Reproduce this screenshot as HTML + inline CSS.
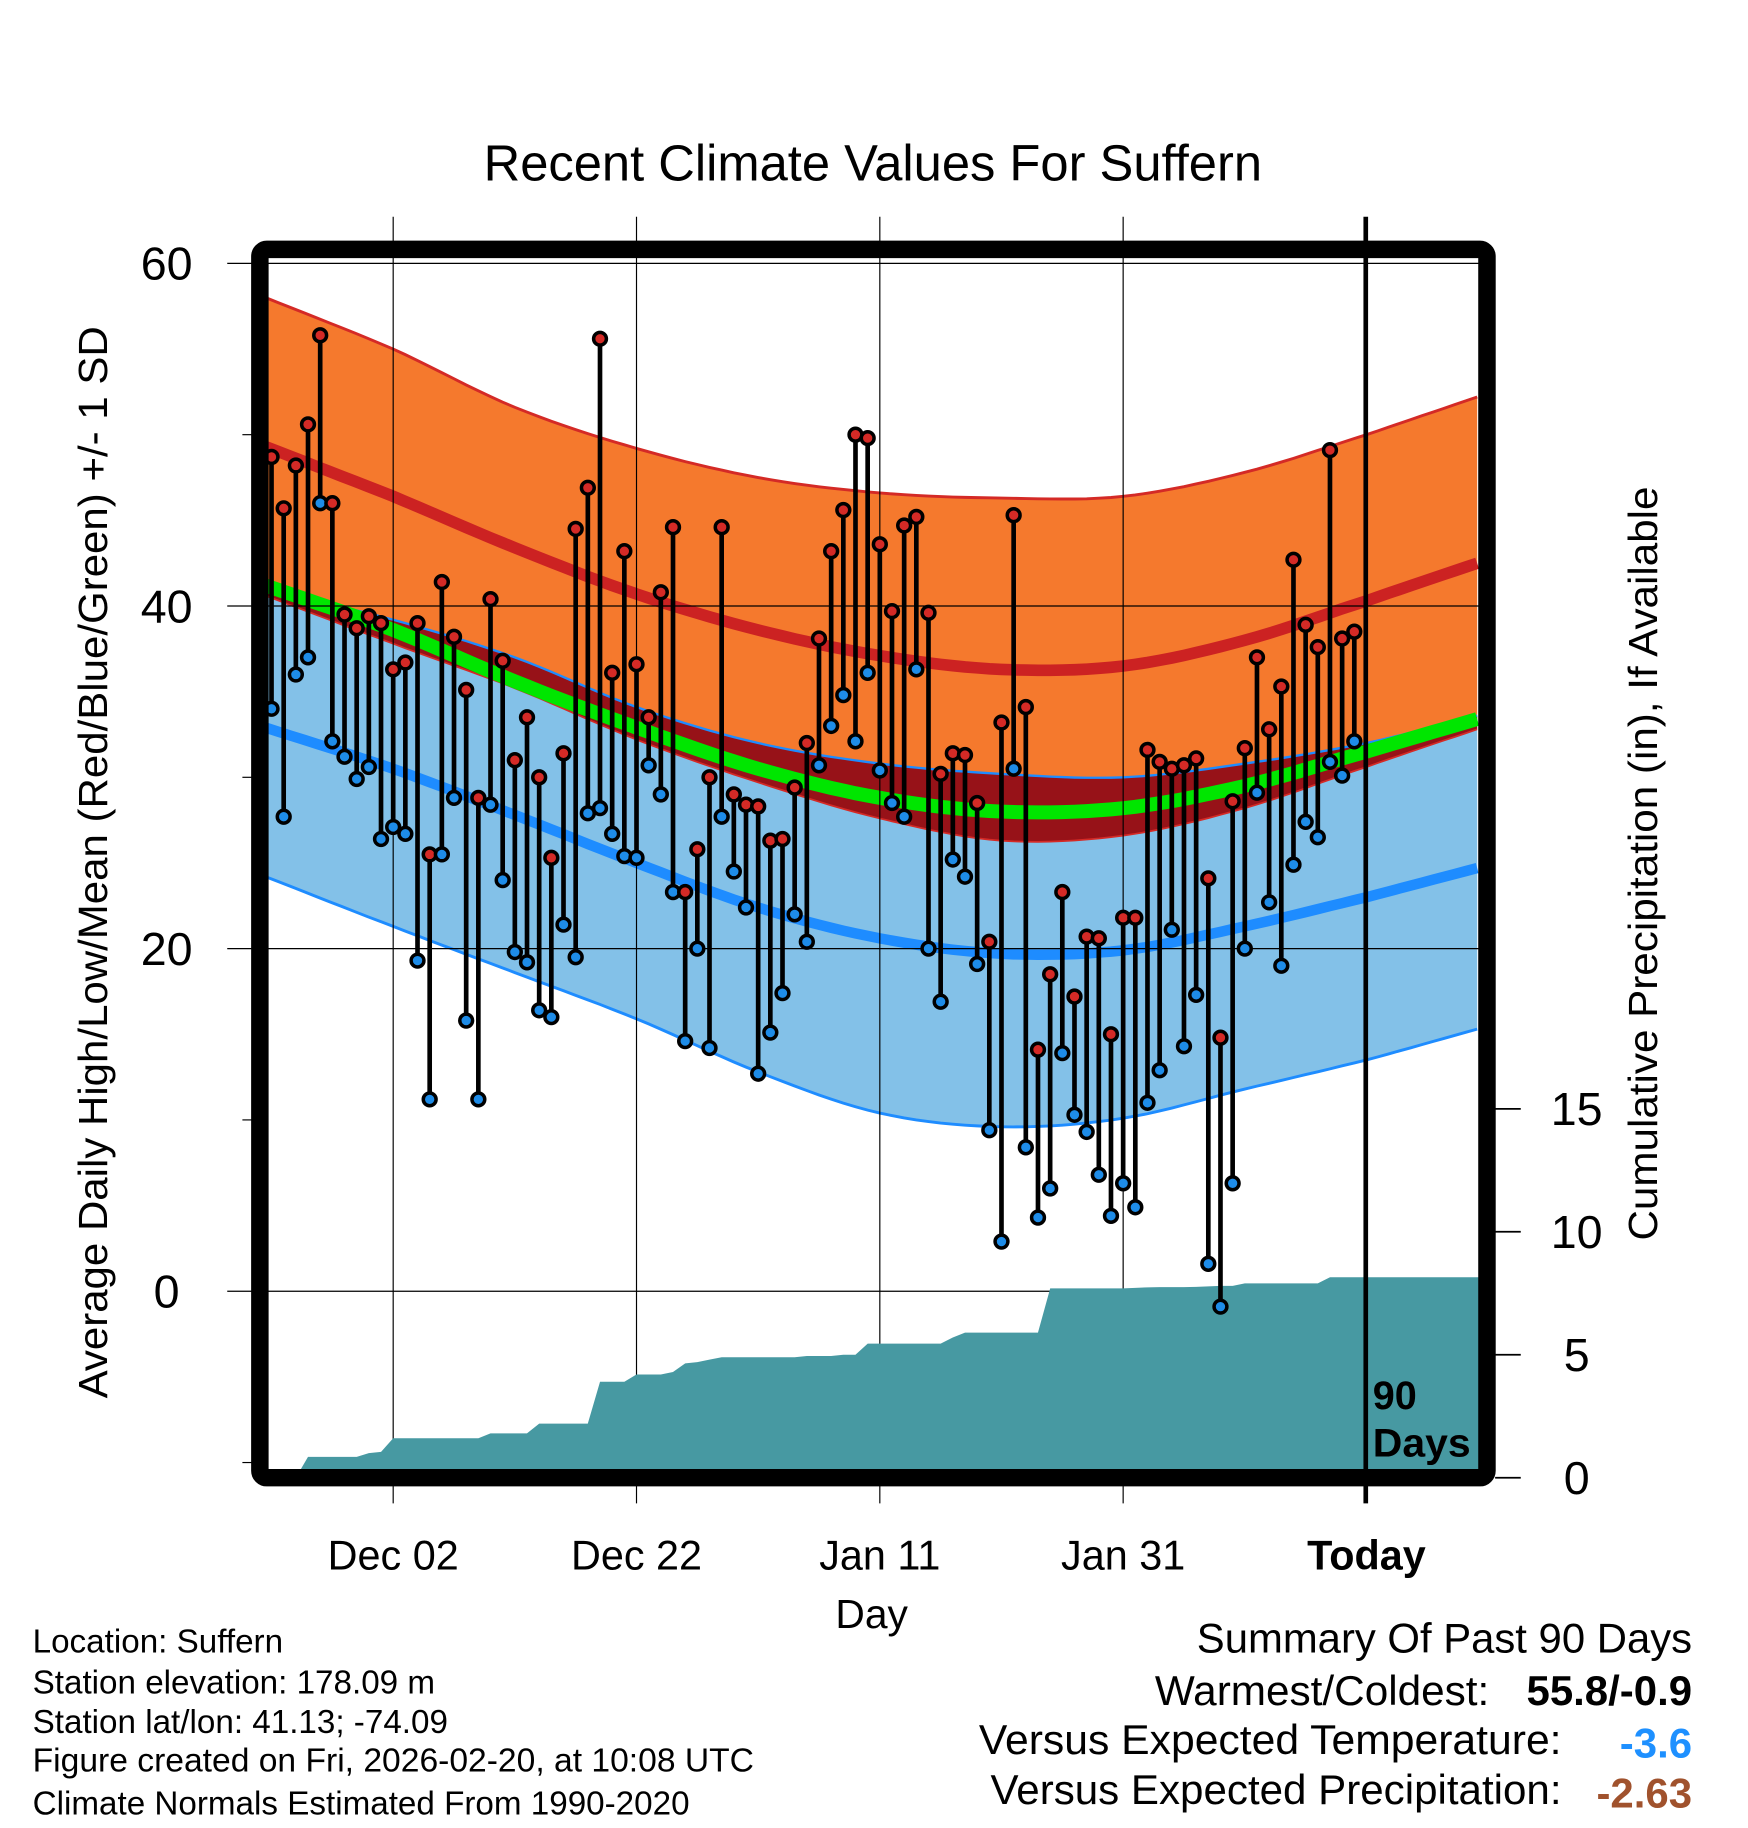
<!DOCTYPE html>
<html><head><meta charset="utf-8"><style>
html,body{margin:0;padding:0;background:#fff}
svg{display:block}
text{font-family:"Liberation Sans",Arial,sans-serif}
</style></head><body>
<svg id="chart" width="1748" height="1828" viewBox="0 0 1500 1568.6" preserveAspectRatio="none" xmlns="http://www.w3.org/2000/svg">
<defs><clipPath id="plotclip"><rect x="223" y="221" width="1046" height="1041"/></clipPath></defs>
<rect x="0" y="0" width="1500" height="1569" fill="#fff"/>
<text x="749" y="155" font-size="43.5" text-anchor="middle" textLength="668" lengthAdjust="spacingAndGlyphs">Recent Climate Values For Suffern</text>
<g id="bands" clip-path="url(#plotclip)"></g>
<g id="grid"></g>
<g id="precip" clip-path="url(#plotclip)"></g>
<g id="marks" clip-path="url(#plotclip)"></g>
<g id="axes"></g>
<rect x="223" y="214" width="1053" height="1054" rx="6" fill="none" stroke="#000" stroke-width="15"/>
<line x1="1172" y1="186" x2="1172" y2="1290" stroke="#000" stroke-width="4"/>
<text x="1178" y="1209" font-size="34" font-weight="bold">90</text>
<text x="1178" y="1250" font-size="34" font-weight="bold" textLength="84" lengthAdjust="spacingAndGlyphs">Days</text>
<text transform="translate(92,740) rotate(-90)" font-size="35" text-anchor="middle" textLength="920" lengthAdjust="spacingAndGlyphs">Average Daily High/Low/Mean (Red/Blue/Green) +/- 1 SD</text>
<text transform="translate(1422,741) rotate(-90)" font-size="35" text-anchor="middle" textLength="647" lengthAdjust="spacingAndGlyphs">Cumulative Precipitation (in), If Available</text>
<text x="748" y="1397" font-size="35" text-anchor="middle">Day</text>
<g font-size="28.5">
<text x="28" y="1418">Location: Suffern</text>
<text x="28" y="1453">Station elevation: 178.09 m</text>
<text x="28" y="1487">Station lat/lon: 41.13; -74.09</text>
<text x="28" y="1520" textLength="619" lengthAdjust="spacingAndGlyphs">Figure created on Fri, 2026-02-20, at 10:08 UTC</text>
<text x="28" y="1557">Climate Normals Estimated From 1990-2020</text>
</g>
<g font-size="36">
<text x="1452" y="1418" text-anchor="end" textLength="425" lengthAdjust="spacingAndGlyphs">Summary Of Past 90 Days</text>
<text x="1278" y="1463" text-anchor="end" textLength="287" lengthAdjust="spacingAndGlyphs">Warmest/Coldest:</text>
<text x="1452" y="1463" text-anchor="end" font-weight="bold">55.8/-0.9</text>
<text x="1340" y="1505" text-anchor="end" textLength="500" lengthAdjust="spacingAndGlyphs">Versus Expected Temperature:</text>
<text x="1452" y="1508" text-anchor="end" font-weight="bold" fill="#1e90ff">-3.6</text>
<text x="1340" y="1548" text-anchor="end" textLength="490" lengthAdjust="spacingAndGlyphs">Versus Expected Precipitation:</text>
<text x="1452" y="1551" text-anchor="end" font-weight="bold" fill="#a0522d">-2.63</text>
</g>
</svg>
<script>
// ---- data ----
const highs = [48.7,45.7,48.2,50.6,55.8,46,39.5,38.7,39.4,39,36.3,36.7,39,25.5,41.4,38.2,35.1,28.8,40.4,36.8,31,33.5,30,25.3,31.4,44.5,46.9,55.6,36.1,43.2,36.6,33.5,40.8,44.6,23.3,25.8,30,44.6,29,28.4,28.3,26.3,26.4,29.4,32,38.1,43.2,45.6,50,49.8,43.6,39.7,44.7,45.2,39.6,30.2,31.4,31.3,28.5,20.4,33.2,45.3,34.1,14.1,18.5,23.3,17.2,20.7,20.6,15,21.8,21.8,31.6,30.9,30.5,30.7,31.1,24.1,14.8,28.6,31.7,37,32.8,35.3,42.7,38.9,37.6,49.1,38.1,38.5];
const lows = [34,27.7,36,37,46,32.1,31.2,29.9,30.6,26.4,27.1,26.7,19.3,11.2,25.5,28.8,15.8,11.2,28.4,24,19.8,19.2,16.4,16,21.4,19.5,27.9,28.2,26.7,25.4,25.3,30.7,29,23.3,14.6,20,14.2,27.7,24.5,22.4,12.7,15.1,17.4,22,20.4,30.7,33,34.8,32.1,36.1,30.4,28.5,27.7,36.3,20,16.9,25.2,24.2,19.1,9.4,2.9,30.5,8.4,4.3,6,13.9,10.3,9.3,6.8,4.4,6.3,4.9,11,12.9,21.1,14.3,17.3,1.6,-0.9,6.3,20,29.1,22.7,19,24.9,27.4,26.5,30.9,30.1,32.1];
const precip = [0,0,0,0.85,0.85,0.85,0.85,0.85,1.0,1.05,1.6,1.6,1.6,1.6,1.6,1.6,1.6,1.6,1.8,1.8,1.8,1.8,2.2,2.2,2.2,2.2,2.2,3.9,3.9,3.9,4.2,4.2,4.2,4.3,4.65,4.7,4.8,4.9,4.9,4.9,4.9,4.9,4.9,4.9,4.95,4.95,4.95,5.0,5.0,5.45,5.45,5.45,5.45,5.45,5.45,5.45,5.7,5.9,5.9,5.9,5.9,5.9,5.9,5.9,7.7,7.7,7.7,7.7,7.7,7.7,7.7,7.72,7.74,7.75,7.75,7.75,7.76,7.78,7.8,7.8,7.9,7.9,7.9,7.9,7.9,7.9,7.9,8.15,8.15,8.15];
const normDays = [-0.48,10,20,30,40,50,60,70,80,90,99.1];
const highPlusSD = [58.0,55.0,51.6,49.2,47.5,46.6,46.3,46.4,47.8,50.0,52.2];
const highMean = [49.3,46.4,43.4,40.7,38.6,37.1,36.3,36.5,38.0,40.3,42.5];
const highMinusSD = [40.6,37.8,35.2,32.2,29.7,27.6,26.3,26.6,28.2,30.6,32.8];
const meanTemp = [41.2,38.6,35.6,32.9,30.5,28.8,28.0,28.2,29.5,31.5,33.4];
const lowPlusSD = [41.0,39.2,37.0,34.1,32.0,30.8,30.2,30.0,30.8,32.0,33.6];
const lowMean = [32.9,30.5,27.8,25.0,22.4,20.6,19.7,19.9,21.3,23.0,24.7];
const lowMinusSD = [24.2,21.3,18.6,15.9,12.8,10.4,9.6,10.1,11.8,13.5,15.3];
const yTicks = [0,20,40,60];
const y2Ticks = [0,5,10,15];
const xTickDays = [10,30,50,70,90];
const xTickLabels = ["Dec 02","Dec 22","Jan 11","Jan 31","Today"];

// ---- scales ----
const NS="http://www.w3.org/2000/svg";
const xS = i => 233 + 10.44*i;
const yS = t => 1108 - 14.7*t;
const yP = p => 1268 - 21.1*p;
function mk(tag, attrs, parent){const e=document.createElementNS(NS,tag);for(const k in attrs)e.setAttribute(k,attrs[k]);parent.appendChild(e);return e;}
function sample(knots){ // catmull-rom sampling of knots over normDays
  const pts=[];const n=knots.length;
  const ext=i=> i<0 ? 2*knots[0]-knots[1] : (i>n-1 ? 2*knots[n-1]-knots[n-2] : knots[i]);
  for(let s=0;s<n-1;s++){
    const p0=ext(s-1),p1=knots[s],p2=knots[s+1],p3=ext(s+2);
    const d0=normDays[s],d1=normDays[s+1];
    for(let k=0;k<10;k++){const t=k/10;
      const v=0.5*((2*p1)+(-p0+p2)*t+(2*p0-5*p1+4*p2-p3)*t*t+(-p0+3*p1-3*p2+p3)*t*t*t);
      pts.push([d0+(d1-d0)*t,v]);}
  }
  pts.push([normDays[n-1],knots[n-1]]);return pts;
}
const sHP=sample(highPlusSD),sHM=sample(highMean),sHm=sample(highMinusSD),sM=sample(meanTemp),sLP=sample(lowPlusSD),sL=sample(lowMean),sLm=sample(lowMinusSD);
const line=pts=>pts.map((p,i)=>(i?'L':'M')+xS(p[0]).toFixed(1)+','+yS(p[1]).toFixed(1)).join('');
const band=(top,bot)=>line(top)+bot.slice().reverse().map(p=>'L'+xS(p[0]).toFixed(1)+','+yS(p[1]).toFixed(1)).join('')+'Z';
const bands=document.getElementById('bands');
let e;
e=mk('path',{d:band(sHP,sHm),fill:'#f5792d'},bands);


e=mk('path',{d:band(sLP,sLm),fill:'#83c1e8'},bands);


const ovTop=sLP.map((p,i)=>[p[0],Math.max(p[1],sHm[i][1])]);
e=mk('path',{d:band(ovTop,sHm),fill:'#971218'},bands);


const lines=[[sHP,'#d42a26',2.5,'high-plus-sd-line'],[sHm,'#d42a26',1.5,'high-minus-sd-line'],[sHM,'#cc2222',10,'mean-high-line'],[sLP,'#1e8cff',2,'low-plus-sd-line'],[sLm,'#1e8cff',2.5,'low-minus-sd-line'],[sL,'#1e8cff',9,'mean-low-line'],[sM,'#00e600',12,'mean-temp-line']];
lines.forEach(l=>{e=mk('path',{d:line(l[0]),fill:'none',stroke:l[1],'stroke-width':l[2]},bands);

});

// grid
const grid=document.getElementById('grid');
yTicks.forEach(t=>{e=mk('line',{x1:195,x2:1270,y1:yS(t),y2:yS(t),stroke:'#000','stroke-width':1},grid);

});
xTickDays.forEach((d,k)=>{if(k<4){e=mk('line',{x1:xS(d),x2:xS(d),y1:186,y2:1290,stroke:'#000','stroke-width':1},grid);

}});

// precip
const pg=document.getElementById('precip');
let pd='M228,1268L228,'+yP(precip[0]);
precip.forEach((p,i)=>{pd+='L'+xS(i).toFixed(1)+','+yP(p).toFixed(1);});
pd+='L1270,'+yP(precip[precip.length-1]).toFixed(1)+'L1270,1268Z';
e=mk('path',{d:pd,fill:'#4799a2'},pg);



// marks
const mg=document.getElementById('marks');
highs.forEach((h,i)=>{
  e=mk('line',{x1:xS(i),x2:xS(i),y1:yS(h),y2:yS(lows[i]),stroke:'#000','stroke-width':4},mg);
  
  
});
highs.forEach((h,i)=>{
  e=mk('circle',{cx:xS(i),cy:yS(lows[i]),r:5.5,fill:'#1e8ce8',stroke:'#000','stroke-width':3},mg);
  
  
  e=mk('circle',{cx:xS(i),cy:yS(h),r:5.5,fill:'#d42a26',stroke:'#000','stroke-width':3},mg);
  
  
});

// axes
const ax=document.getElementById('axes');
yTicks.forEach(t=>{e=mk('text',{x:143,y:yS(t)+14,'font-size':40,'text-anchor':'middle'},ax);e.textContent=t;

});
[-10,10,30,50].forEach(t=>{mk('line',{x1:208,x2:216,y1:yS(t),y2:yS(t),stroke:'#000','stroke-width':1},ax);});
y2Ticks.forEach(p=>{mk('line',{x1:1283,x2:1305,y1:yP(p),y2:yP(p),stroke:'#000','stroke-width':1.5},ax);
e=mk('text',{x:1353,y:yP(p)+14,'font-size':40,'text-anchor':'middle'},ax);e.textContent=p;

});
xTickDays.forEach((d,k)=>{e=mk('text',{x:xS(d),y:1347,'font-size':35.5,'text-anchor':'middle','font-weight':k==4?'bold':'normal'},ax);e.textContent=xTickLabels[k];

});
</script>
</body></html>
